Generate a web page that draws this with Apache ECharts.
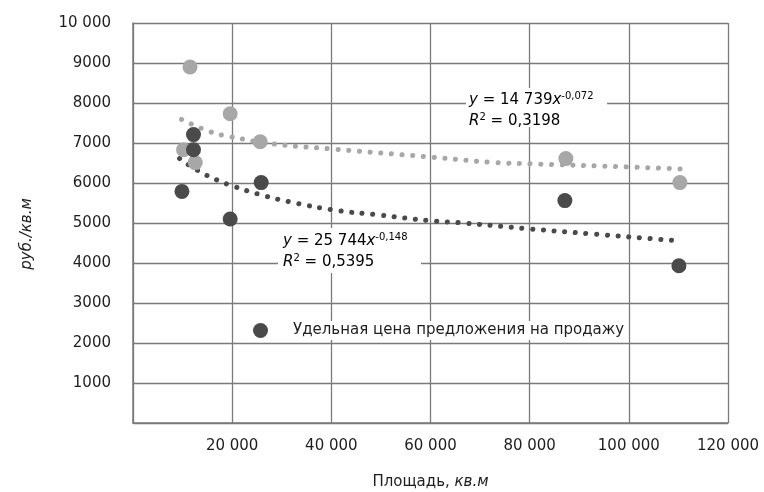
<!DOCTYPE html>
<html>
<head>
<meta charset="utf-8">
<script src="https://cdn.jsdelivr.net/npm/echarts@6/dist/echarts.min.js"></script>
<style>
html,body{margin:0;padding:0;background:#fff;}
#chart{width:764px;height:492px;}
</style>
</head>
<body>
<div id="chart"></div>
<script>
// Data
var lightArea  = [11500, 19600, 25650, 10200, 12550, 87300, 110300];
var lightPrice = [8900, 7730, 7030, 6830, 6510, 6610, 6010];

var darkArea  = [12200, 12200, 9870, 25850, 19600, 87100, 110100];
var darkPrice = [7210, 6830, 5790, 6010, 5100, 5560, 3930];

// Trend lines (power fits)
var lightTrendX = [9800, 15600, 19600, 28000, 40150, 59900, 72650, 80250, 100200, 110900];
var lightTrendY = [7590, 7280, 7160, 6980, 6850, 6650, 6515, 6480, 6400, 6350];
var darkTrendX  = [9400, 13100, 17100, 19200, 25650, 32200, 41100, 49200, 60200, 66600, 80250, 92800, 110300];
var darkTrendY  = [6610, 6310, 6065, 5965, 5710, 5515, 5315, 5205, 5055, 5000, 4850, 4725, 4550];

var xTicks = {20000:'20 000', 40000:'40 000', 60000:'60 000', 80000:'80 000', 100000:'100 000', 120000:'120 000'};
var yTicks = {1000:'1000', 2000:'2000', 3000:'3000', 4000:'4000', 5000:'5000', 6000:'6000', 7000:'7000', 8000:'8000', 9000:'9000', 10000:'10 000'};

var legendName = 'Удельная цена предложения на продажу';
var xName = 'Площадь, ';
var xNameUnit = 'кв.м';
var yName = 'руб./кв.м';
var eq1 = ['14 739', '-0,072', '0,3198'];
var eq2 = ['25 744', '-0,148', '0,5395'];

function pairs(xs, ys){ return xs.map(function(x,i){ return [x, ys[i]]; }); }

var FONT = 'DejaVu Sans';
var LIGHT = '#a7a7a7';
var DARK = '#4a4a4a';
var GRID = '#7a7a7a';
var TXT = '#1e1e1e';

var chart = echarts.init(document.getElementById('chart'));

var eqRich = {
  i: {fontStyle:'italic', fontSize:15, fontFamily:FONT, color:TXT},
  n: {fontSize:15, fontFamily:FONT, color:TXT},
  s: {fontSize:10, fontFamily:FONT, color:TXT, padding:[0,0,9,0]}
};
function eqText(e){
  return '{i|y}{n| = ' + e[0] + '}{i|x}{s|' + e[1] + '}\n{i|R}{s|2}{n| = ' + e[2] + '}';
}

chart.setOption({
  animation:false,
  backgroundColor:'#fff',
  textStyle:{fontFamily:FONT},
  grid:{left:133, top:23, right:36, bottom:69, outerBoundsMode:'none', containLabel:false},
  xAxis:{
    type:'value', min:0, max:120000, interval:20000,
    name: '{n|' + xName + '}{i|' + xNameUnit + '}',
    nameLocation:'middle', nameGap:52,
    nameTextStyle:{rich:{
      n:{fontSize:15, fontFamily:FONT, color:TXT},
      i:{fontSize:15, fontFamily:FONT, fontStyle:'italic', color:TXT}
    }},
    axisLine:{show:true, lineStyle:{color:GRID, width:1.5}},
    axisTick:{show:false},
    splitLine:{show:true, lineStyle:{color:GRID, width:1.3}},
    axisLabel:{fontSize:15, color:TXT, margin:16, fontFamily:FONT,
      formatter:function(v){ return xTicks[v] || ''; }}
  },
  yAxis:{
    type:'value', min:0, max:10000, interval:1000,
    name:yName, nameLocation:'middle', nameGap:98, nameRotate:90,
    nameTextStyle:{fontSize:15, fontStyle:'italic', color:TXT, fontFamily:FONT, padding:[0,22,0,0]},
    axisLine:{show:true, lineStyle:{color:GRID, width:1.5}},
    axisTick:{show:false},
    splitLine:{show:true, lineStyle:{color:GRID, width:1.3}},
    axisLabel:{fontSize:15, color:TXT, margin:22, fontFamily:FONT,
      formatter:function(v){ return yTicks[v] || ''; }}
  },
  legend:{
    data:[{name:legendName, icon:'circle'}],
    left:253, top:321,
    padding:[2,4,2,0],
    backgroundColor:'#fff',
    itemWidth:15, itemHeight:15,
    textStyle:{fontSize:15, color:TXT, fontFamily:FONT, padding:[0,0,0,20]},
    selectedMode:false
  },
  graphic:[
    {type:'rect', z:50, shape:{x:466, y:88, width:141, height:39}, style:{fill:'#fff'}},
    {type:'text', z:51, left:469, top:90, style:{text:eqText(eq1), rich:eqRich, lineHeight:21}},
    {type:'rect', z:50, shape:{x:278, y:228, width:143, height:45}, style:{fill:'#fff'}},
    {type:'text', z:51, left:283, top:231, style:{text:eqText(eq2), rich:eqRich, lineHeight:21}}
  ],
  series:[
    {
      type:'line', name:'lightTrend', data:pairs(lightTrendX, lightTrendY),
      smooth:true, showSymbol:false, z:1, silent:true,
      lineStyle:{color:LIGHT, width:5, type:[0.1, 10.6], cap:'round'}
    },
    {
      type:'line', name:'darkTrend', data:pairs(darkTrendX, darkTrendY),
      smooth:true, showSymbol:false, z:1, silent:true,
      lineStyle:{color:DARK, width:5, type:[0.1, 10.6], cap:'round'}
    },
    {
      type:'scatter', name:'light', data:pairs(lightArea, lightPrice),
      symbolSize:15, itemStyle:{color:LIGHT, opacity:1}, z:3
    },
    {
      type:'scatter', name:legendName, data:pairs(darkArea, darkPrice),
      symbolSize:15, itemStyle:{color:DARK, opacity:1}, z:4
    }
  ]
});
</script>
</body>
</html>
